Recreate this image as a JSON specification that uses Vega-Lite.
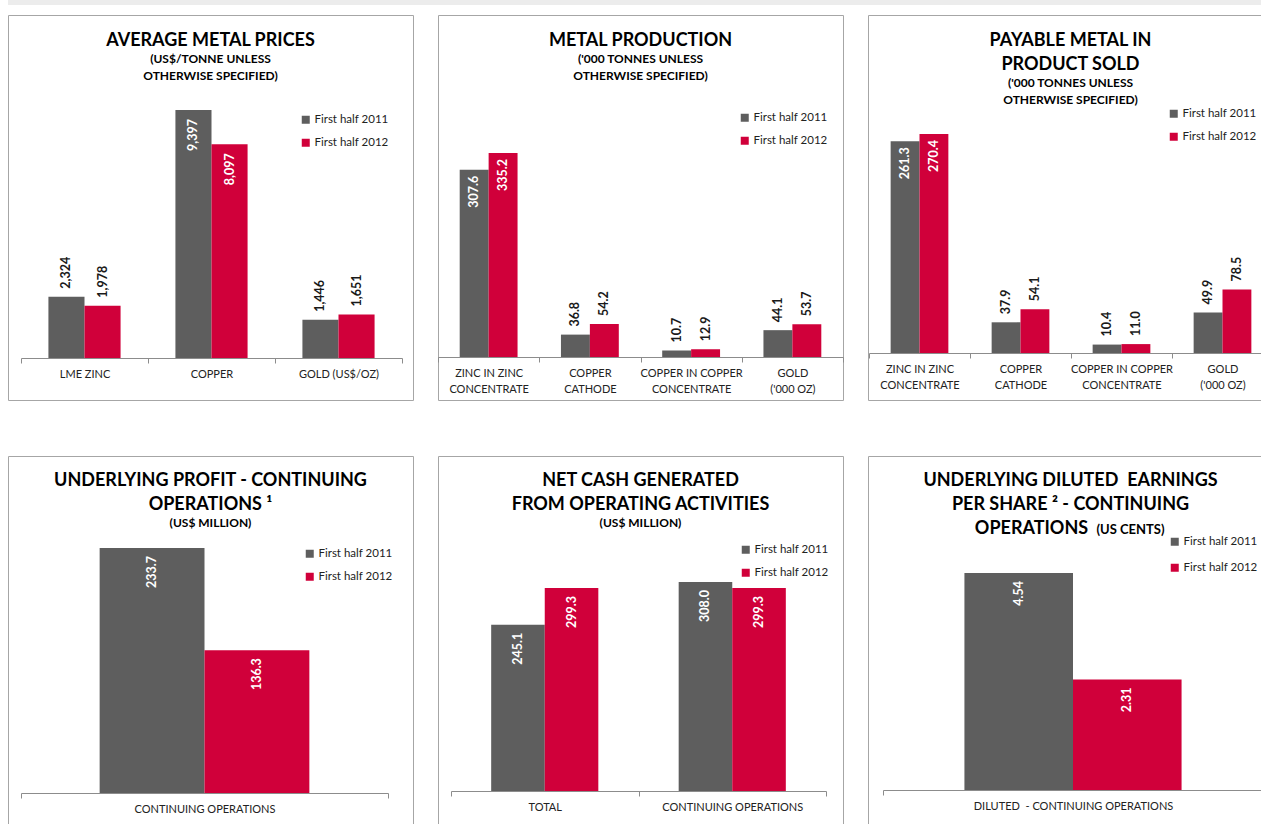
{
  "$schema": "https://vega.github.io/schema/vega-lite/v6.json",
  "padding": {"left": 7, "top": 0, "right": 0, "bottom": 0},
  "background": "white",
  "datasets": {
    "p1": [
      {"category": "LME ZINC", "series": "First half 2011", "value": 2324},
      {"category": "LME ZINC", "series": "First half 2012", "value": 1978},
      {"category": "COPPER", "series": "First half 2011", "value": 9397},
      {"category": "COPPER", "series": "First half 2012", "value": 8097},
      {"category": "GOLD (US$/OZ)", "series": "First half 2011", "value": 1446},
      {"category": "GOLD (US$/OZ)", "series": "First half 2012", "value": 1651}
    ],
    "p2": [
      {"category": "ZINC IN ZINC|CONCENTRATE", "series": "First half 2011", "value": 307.6},
      {"category": "ZINC IN ZINC|CONCENTRATE", "series": "First half 2012", "value": 335.2},
      {"category": "COPPER|CATHODE", "series": "First half 2011", "value": 36.8},
      {"category": "COPPER|CATHODE", "series": "First half 2012", "value": 54.2},
      {"category": "COPPER IN COPPER|CONCENTRATE", "series": "First half 2011", "value": 10.7},
      {"category": "COPPER IN COPPER|CONCENTRATE", "series": "First half 2012", "value": 12.9},
      {"category": "GOLD|('000 OZ)", "series": "First half 2011", "value": 44.1},
      {"category": "GOLD|('000 OZ)", "series": "First half 2012", "value": 53.7}
    ],
    "p3": [
      {"category": "ZINC IN ZINC|CONCENTRATE", "series": "First half 2011", "value": 261.3},
      {"category": "ZINC IN ZINC|CONCENTRATE", "series": "First half 2012", "value": 270.4},
      {"category": "COPPER|CATHODE", "series": "First half 2011", "value": 37.9},
      {"category": "COPPER|CATHODE", "series": "First half 2012", "value": 54.1},
      {"category": "COPPER IN COPPER|CONCENTRATE", "series": "First half 2011", "value": 10.4},
      {"category": "COPPER IN COPPER|CONCENTRATE", "series": "First half 2012", "value": 11.0},
      {"category": "GOLD|('000 OZ)", "series": "First half 2011", "value": 49.9},
      {"category": "GOLD|('000 OZ)", "series": "First half 2012", "value": 78.5}
    ],
    "p4": [
      {"category": "CONTINUING OPERATIONS", "series": "First half 2011", "value": 233.7},
      {"category": "CONTINUING OPERATIONS", "series": "First half 2012", "value": 136.3}
    ],
    "p5": [
      {"category": "TOTAL", "series": "First half 2011", "value": 245.1},
      {"category": "TOTAL", "series": "First half 2012", "value": 299.3},
      {"category": "CONTINUING OPERATIONS", "series": "First half 2011", "value": 308.0},
      {"category": "CONTINUING OPERATIONS", "series": "First half 2012", "value": 299.3}
    ],
    "p6": [
      {"category": "DILUTED\u00a0 - CONTINUING OPERATIONS", "series": "First half 2011", "value": 4.54},
      {"category": "DILUTED\u00a0 - CONTINUING OPERATIONS", "series": "First half 2012", "value": 2.31}
    ]
  },
  "spacing": 9,
  "resolve": {"scale": {"color": "independent", "xOffset": "independent"}, "legend": {"color": "independent"}},
  "vconcat": [
    {
      "width": 1265,
      "height": 5,
      "view": {"fill": "#ececec", "stroke": null},
      "data": {"values": []},
      "mark": "rect"
    },
    {
      "columns": 3,
      "spacing": {"row": 54, "column": 23},
      "resolve": {"scale": {"color": "independent", "xOffset": "independent"}, "legend": {"color": "independent"}},
      "concat": [
        {
          "width": 405, "height": 385,
          "data": {"name": "p1"},
          "title": {"text": "AVERAGE METAL PRICES", "subtitle": ["(US$/TONNE UNLESS", "OTHERWISE SPECIFIED)"], "offset": -67},
          "encoding": {
            "x": {"field": "category", "type": "nominal", "sort": null, "title": null,
              "scale": {"range": [13, 394], "paddingInner": 0, "paddingOuter": 0},
              "axis": {"offset": -42, "labelExpr": "split(datum.label, '|')"}},
            "xOffset": {"field": "series", "type": "nominal", "scale": {"paddingInner": 0, "paddingOuter": 0.76}},
            "y": {"field": "value", "type": "quantitative", "axis": null, "scale": {"domain": [0, 12997], "range": [343, 0], "nice": false}}
          },
          "layer": [
            {"mark": {"type": "bar"},
             "encoding": {"color": {"field": "series", "type": "nominal", "title": null,
               "scale": {"domain": ["First half 2011", "First half 2012"], "range": ["#5e5e5e", "#d0003a"]},
               "legend": {"orient": "none", "legendX": 292, "legendY": 99}}}},
            {"transform": [{"filter": "datum.value < 5000"}],
             "mark": {"type": "text", "angle": 270, "align": "left", "baseline": "middle", "dx": 8, "font": "Lato", "fontWeight": "bold", "fontSize": 12.5, "color": "#1a1a1a"},
             "encoding": {"text": {"field": "value", "type": "quantitative", "format": ",.0f"}}},
            {"transform": [{"filter": "datum.value >= 5000"}],
             "mark": {"type": "text", "angle": 270, "align": "right", "baseline": "middle", "dx": -9, "font": "Lato", "fontWeight": "bold", "fontSize": 12.5, "color": "white"},
             "encoding": {"text": {"field": "value", "type": "quantitative", "format": ",.0f"}}}
          ]
        },
        {
          "width": 405, "height": 385,
          "data": {"name": "p2"},
          "title": {"text": "METAL PRODUCTION", "subtitle": ["('000 TONNES UNLESS", "OTHERWISE SPECIFIED)"], "offset": -67},
          "encoding": {
            "x": {"field": "category", "type": "nominal", "sort": null, "title": null,
              "scale": {"range": [0, 405], "paddingInner": 0, "paddingOuter": 0},
              "axis": {"offset": -43, "labelExpr": "split(datum.label, '|')"}},
            "xOffset": {"field": "series", "type": "nominal", "scale": {"paddingInner": 0, "paddingOuter": 0.75}},
            "y": {"field": "value", "type": "quantitative", "axis": null, "scale": {"domain": [0, 562], "range": [342, 0], "nice": false}}
          },
          "layer": [
            {"mark": {"type": "bar"},
             "encoding": {"color": {"field": "series", "type": "nominal", "title": null,
               "scale": {"domain": ["First half 2011", "First half 2012"], "range": ["#5e5e5e", "#d0003a"]},
               "legend": {"orient": "none", "legendX": 301, "legendY": 97}}}},
            {"transform": [{"filter": "datum.value < 100"}],
             "mark": {"type": "text", "angle": 270, "align": "left", "baseline": "middle", "dx": 8, "font": "Lato", "fontWeight": "bold", "fontSize": 12.5, "color": "#1a1a1a"},
             "encoding": {"text": {"field": "value", "type": "quantitative", "format": ".1f"}}},
            {"transform": [{"filter": "datum.value >= 100"}],
             "mark": {"type": "text", "angle": 270, "align": "right", "baseline": "middle", "dx": -6, "font": "Lato", "fontWeight": "bold", "fontSize": 12.5, "color": "white"},
             "encoding": {"text": {"field": "value", "type": "quantitative", "format": ".1f"}}}
          ]
        },
        {
          "width": 405, "height": 385,
          "data": {"name": "p3"},
          "title": {"text": ["PAYABLE METAL IN", "PRODUCT SOLD"], "subtitle": ["('000 TONNES UNLESS", "OTHERWISE SPECIFIED)"], "offset": -91},
          "encoding": {
            "x": {"field": "category", "type": "nominal", "sort": null, "title": null,
              "scale": {"range": [1, 405], "paddingInner": 0, "paddingOuter": 0},
              "axis": {"offset": -47, "labelExpr": "split(datum.label, '|')"}},
            "xOffset": {"field": "series", "type": "nominal", "scale": {"paddingInner": 0, "paddingOuter": 0.75}},
            "y": {"field": "value", "type": "quantitative", "axis": null, "scale": {"domain": [0, 417.3], "range": [338, 0], "nice": false}}
          },
          "layer": [
            {"mark": {"type": "bar"},
             "encoding": {"color": {"field": "series", "type": "nominal", "title": null,
               "scale": {"domain": ["First half 2011", "First half 2012"], "range": ["#5e5e5e", "#d0003a"]},
               "legend": {"orient": "none", "legendX": 300, "legendY": 93}}}},
            {"transform": [{"filter": "datum.value < 100"}],
             "mark": {"type": "text", "angle": 270, "align": "left", "baseline": "middle", "dx": 8, "font": "Lato", "fontWeight": "bold", "fontSize": 12.5, "color": "#1a1a1a"},
             "encoding": {"text": {"field": "value", "type": "quantitative", "format": ".1f"}}},
            {"transform": [{"filter": "datum.value >= 100"}],
             "mark": {"type": "text", "angle": 270, "align": "right", "baseline": "middle", "dx": -6, "font": "Lato", "fontWeight": "bold", "fontSize": 12.5, "color": "white"},
             "encoding": {"text": {"field": "value", "type": "quantitative", "format": ".1f"}}}
          ]
        },
        {
          "width": 405, "height": 385,
          "data": {"name": "p4"},
          "title": {"text": ["UNDERLYING PROFIT - CONTINUING", "OPERATIONS ¹"], "subtitle": "(US$ MILLION)", "offset": -73},
          "encoding": {
            "x": {"field": "category", "type": "nominal", "sort": null, "title": null,
              "scale": {"range": [13, 380], "paddingInner": 0, "paddingOuter": 0},
              "axis": {"offset": -48, "labelExpr": "split(datum.label, '|')"}},
            "xOffset": {"field": "series", "type": "nominal", "scale": {"paddingInner": 0, "paddingOuter": 0.75}},
            "y": {"field": "value", "type": "quantitative", "axis": null, "scale": {"domain": [0, 321.5], "range": [337, 0], "nice": false}}
          },
          "layer": [
            {"mark": {"type": "bar"},
             "encoding": {"color": {"field": "series", "type": "nominal", "title": null,
               "scale": {"domain": ["First half 2011", "First half 2012"], "range": ["#5e5e5e", "#d0003a"]},
               "legend": {"orient": "none", "legendX": 296, "legendY": 92}}}},
            {"mark": {"type": "text", "angle": 270, "align": "right", "baseline": "middle", "dx": -8, "font": "Lato", "fontWeight": "bold", "fontSize": 12.5, "color": "white"},
             "encoding": {"text": {"field": "value", "type": "quantitative", "format": ".1f"}}}
          ]
        },
        {
          "width": 405, "height": 385,
          "data": {"name": "p5"},
          "title": {"text": ["NET CASH GENERATED", "FROM OPERATING ACTIVITIES"], "subtitle": "(US$ MILLION)", "offset": -73},
          "encoding": {
            "x": {"field": "category", "type": "nominal", "sort": null, "title": null,
              "scale": {"range": [13, 388], "paddingInner": 0, "paddingOuter": 0},
              "axis": {"offset": -50, "labelExpr": "split(datum.label, '|')"}},
            "xOffset": {"field": "series", "type": "nominal", "scale": {"paddingInner": 0, "paddingOuter": 0.75}},
            "y": {"field": "value", "type": "quantitative", "axis": null, "scale": {"domain": [0, 493.7], "range": [335, 0], "nice": false}}
          },
          "layer": [
            {"mark": {"type": "bar"},
             "encoding": {"color": {"field": "series", "type": "nominal", "title": null,
               "scale": {"domain": ["First half 2011", "First half 2012"], "range": ["#5e5e5e", "#d0003a"]},
               "legend": {"orient": "none", "legendX": 302, "legendY": 88}}}},
            {"mark": {"type": "text", "angle": 270, "align": "right", "baseline": "middle", "dx": -8, "font": "Lato", "fontWeight": "bold", "fontSize": 12.5, "color": "white"},
             "encoding": {"text": {"field": "value", "type": "quantitative", "format": ".1f"}}}
          ]
        },
        {
          "width": 405, "height": 385,
          "data": {"name": "p6"},
          "title": {"text": ["UNDERLYING DILUTED\u00a0 EARNINGS", "PER SHARE ² - CONTINUING", "OPERATIONS\u2800\u2800\u2800\u2800\u2800\u2800"], "subtitle": "\u2800\u2800\u2800\u2800\u2800\u2800\u2800\u2800\u2800\u2800\u2800\u2800(US CENTS)", "subtitleFontSize": 13, "subtitlePadding": -14, "offset": -82},
          "encoding": {
            "x": {"field": "category", "type": "nominal", "sort": null, "title": null,
              "scale": {"range": [15, 395], "paddingInner": 0, "paddingOuter": 0},
              "axis": {"offset": -51, "labelExpr": "split(datum.label, '|')"}},
            "xOffset": {"field": "series", "type": "nominal", "scale": {"paddingInner": 0, "paddingOuter": 0.75}},
            "y": {"field": "value", "type": "quantitative", "axis": null, "scale": {"domain": [0, 6.988], "range": [334, 0], "nice": false}}
          },
          "layer": [
            {"mark": {"type": "bar"},
             "encoding": {"color": {"field": "series", "type": "nominal", "title": null,
               "scale": {"domain": ["First half 2011", "First half 2012"], "range": ["#5e5e5e", "#d0003a"]},
               "legend": {"orient": "none", "legendX": 301, "legendY": 80, "rowPadding": 13}}}},
            {"mark": {"type": "text", "angle": 270, "align": "right", "baseline": "middle", "dx": -8, "font": "Lato", "fontWeight": "bold", "fontSize": 12.5, "color": "white"},
             "encoding": {"text": {"field": "value", "type": "quantitative", "format": ".2f"}}}
          ]
        }
      ]
    }
  ],
  "config": {
    "view": {"stroke": "#a6a6a6", "strokeWidth": 1},
    "font": "Lato",
    "title": {"anchor": "middle", "frame": "group", "font": "Lato", "fontSize": 18, "fontWeight": "bold", "color": "#000000", "lineHeight": 24,
      "subtitleFont": "Lato", "subtitleFontSize": 12, "subtitleFontWeight": "bold", "subtitleColor": "#000000", "subtitleLineHeight": 17, "subtitlePadding": 4},
    "axisX": {"labelFont": "Lato", "labelFontSize": 11, "labelColor": "#222222", "labelAngle": 0, "domainColor": "#8c8c8c", "tickColor": "#8c8c8c",
      "tickSize": 5, "tickBand": "extent", "labelPadding": 5, "labelLineHeight": 16, "labelOverlap": false, "labelFlush": false, "labelLimit": 300, "grid": false},
    "legend": {"labelFont": "Lato", "labelFontSize": 11.5, "labelColor": "#222222", "symbolType": "square", "symbolSize": 64, "symbolStrokeWidth": 0,
      "rowPadding": 10, "labelOffset": 3, "padding": 0, "titlePadding": 0}
  }
}
